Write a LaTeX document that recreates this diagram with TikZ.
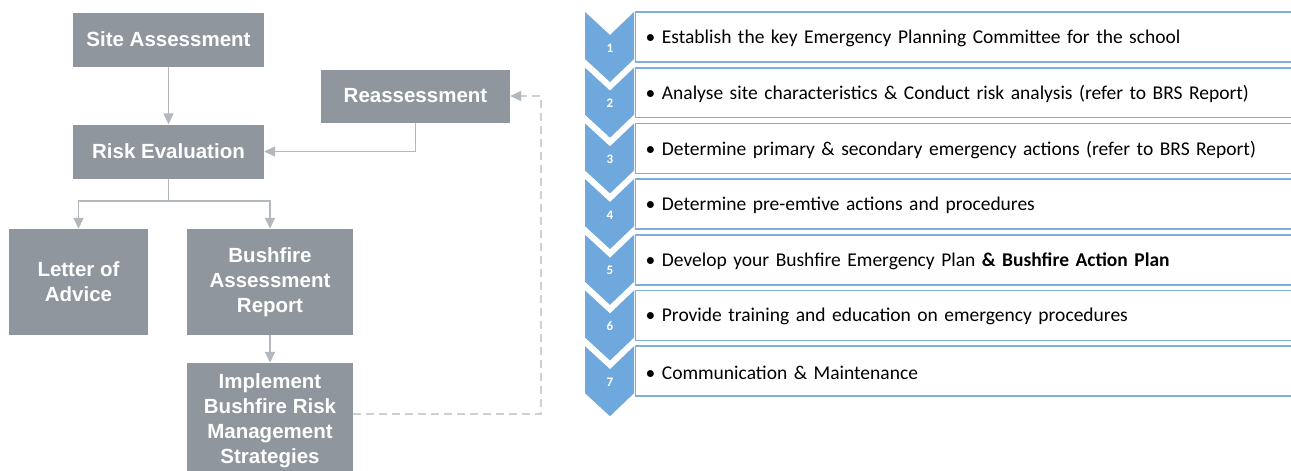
\documentclass[tikz,border=0pt]{standalone}
\usepackage{fontspec}
\setmainfont{Carlito}
\newfontfamily\flowfont{Liberation Sans}
\usetikzlibrary{arrows.meta}

\definecolor{boxgray}{RGB}{143,150,157}
\definecolor{linegray}{RGB}{178,184,190}
\definecolor{dashgray}{RGB}{204,208,212}
\definecolor{chevblue}{RGB}{111,168,220}
\definecolor{rimblue}{RGB}{125,174,222}

\tikzset{
	flowbox/.style={fill=boxgray, text=white, align=center, inner sep=0pt,
		font=\flowfont\bfseries\fontsize{20.5}{25}\selectfont},
	link/.style={draw=linegray, line width=1.5pt, -{Triangle[length=11pt,width=10pt]}},
	backlink/.style={draw=dashgray, line width=1.5pt, dash pattern=on 8pt off 5pt,
		-{Triangle[length=11pt,width=10pt,color=linegray]}},
	stepnum/.style={text=white, font=\bfseries\fontsize{13}{13}\selectfont, inner sep=0pt},
	steptext/.style={anchor=north west, minimum height=47pt, inner xsep=10pt,
		text width=636pt, align=left, font=\fontsize{19.5}{21}\selectfont},
	rim/.style={draw=rimblue, line width=1.6pt}
}

\begin{document}
\begin{tikzpicture}[x=1pt, y=-1pt]
	
	\useasboundingbox (0,0) rectangle (1291,471);
	
	% flow chart
	\node [flowbox, minimum width=191pt, minimum height=54pt] (site) at (168.5,39.5) {Site Assessment};
	\node [flowbox, minimum width=189pt, minimum height=53pt] (reass) at (415.5,96) {Reassessment};
	\node [flowbox, minimum width=191pt, minimum height=54pt] (risk) at (168.5,151.5) {Risk Evaluation};
	\node [flowbox, minimum width=139pt, minimum height=106pt] (letter) at (78.5,282) {Letter of\\Advice};
	\node [flowbox, minimum width=166pt, minimum height=106pt] (report) at (270,282) {Bushfire\\Assessment\\Report};
	\node [flowbox, minimum width=166pt, minimum height=115pt] (impl) at (270,420.5) {Implement\\Bushfire Risk\\Management\\Strategies};
	
	\coordinate (fork) at (168.5,201);
	\coordinate (back) at (541,96);
	
	\draw [link] (site) -- (risk);
	\draw [link] (reass.south) |- (risk.east);
	\draw [draw=linegray, line width=1.5pt] (risk.south) -- (fork);
	\draw [link] (fork) -| (letter.north);
	\draw [link] (fork) -| (report.north);
	\draw [link] (report) -- (impl);
	\draw [backlink] (impl.east |- 0,414) -| (back) -- (reass.east);
	
	% steps
	\foreach \n/\txt in {1/{Establish the key Emergency Planning Committee for the school},
		2/{Analyse site characteristics \& Conduct risk analysis (refer to BRS Report)},
		3/{Determine primary \& secondary emergency actions (refer to BRS Report)},
		4/{Determine pre-emtive actions and procedures},
		5/{Develop your Bushfire Emergency Plan \textbf{\& Bushfire Action Plan}},
		6/{Provide training and education on emergency procedures},
		7/{Communication \& Maintenance}}{
		\pgfmathsetmacro{\ytop}{12+55.7*(\n-1)}
		\fill [chevblue] (585,\ytop) -- (610,\ytop+23) -- (634,\ytop) -- (634,\ytop+47) -- (610,\ytop+70) -- (585,\ytop+47) -- cycle;
		\node [stepnum] (num\n) at (610,\ytop+36) {\n};
		\node [steptext] (step\n) at (635.5,\ytop+2.5) {\textbullet\ \txt};
		\draw [rim] (step\n.north east |- 0,\ytop) -- (step\n.north west |- 0,\ytop) -- (step\n.south west) -- (step\n.south east);
	}
	
\end{tikzpicture}
\end{document}
